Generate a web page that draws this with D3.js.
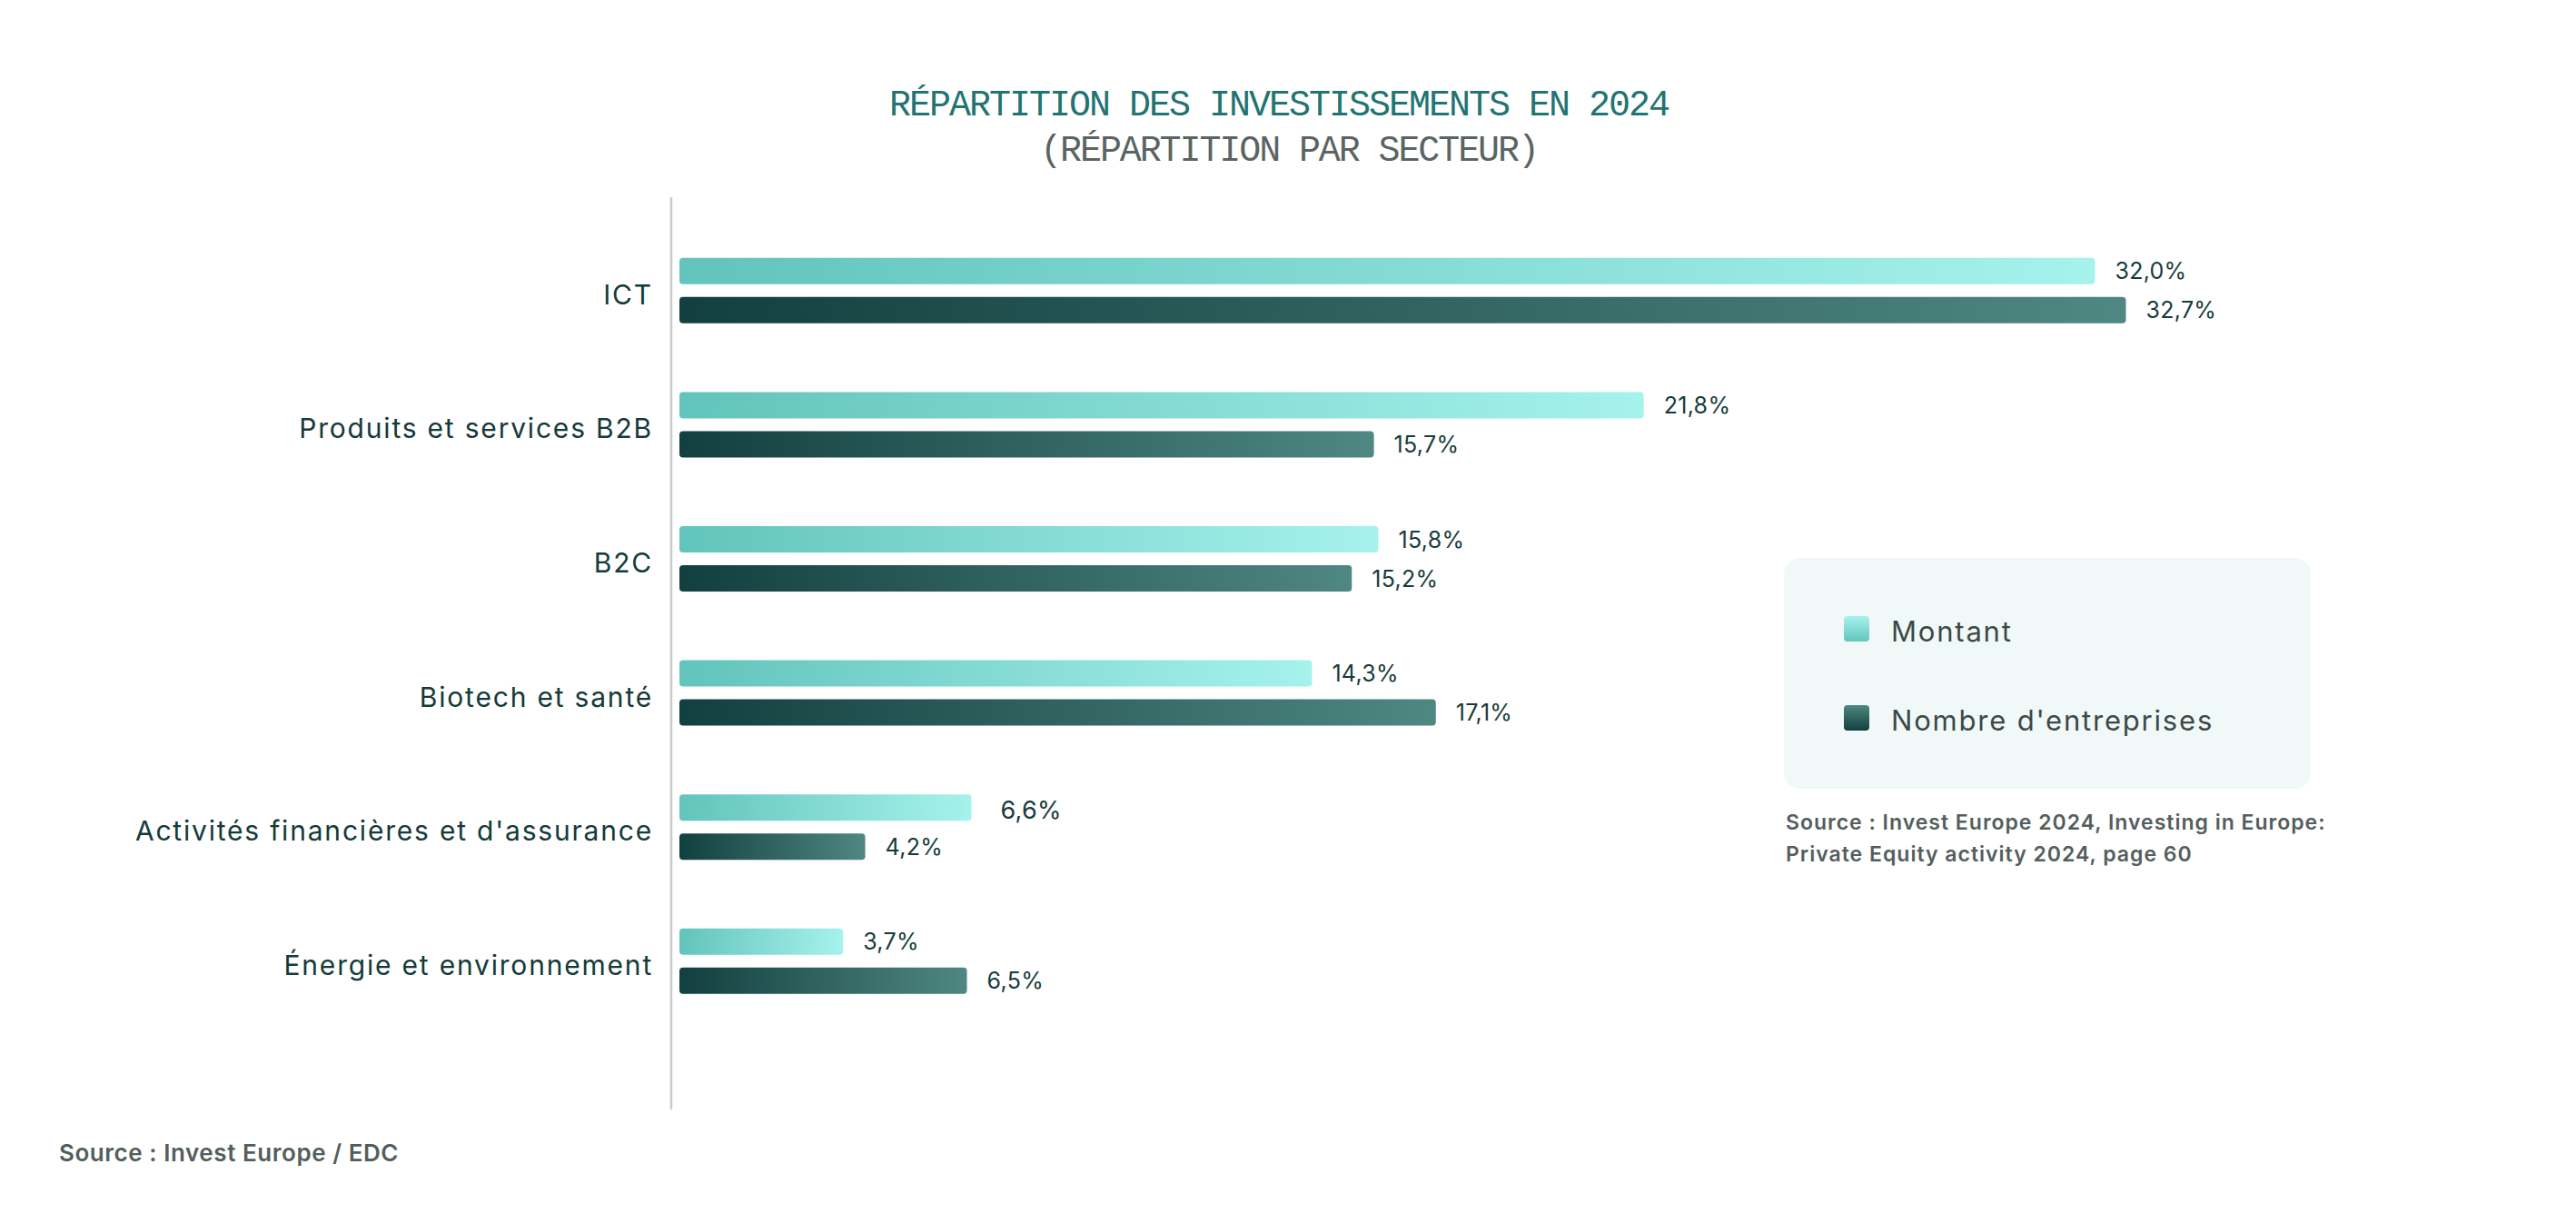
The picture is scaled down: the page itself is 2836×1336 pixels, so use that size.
<!DOCTYPE html>
<html>
<head>
<meta charset="utf-8">
<script src="https://cdn.jsdelivr.net/npm/d3@7"></script>
<style>
  body { margin: 0; background: #ffffff; }
  svg { display: block; }
</style>
</head>
<body>
<div id="chart"></div>
<script>
// Data
const categories = ["ICT", "Produits et services B2B", "B2C", "Biotech et santé",
    "Activités financières et d'assurance", "Énergie et environnement"];
const series = ["Montant", "Nombre d'entreprises"];
const montant = [32.0, 21.8, 15.8, 14.3, 6.6, 3.7];
const nombre = [32.7, 15.7, 15.2, 17.1, 4.2, 6.5];

const W = 2836, H = 1336;
const axisX = 739;
const sans = "Inter, 'Noto Sans', sans-serif";
const mono = "'Liberation Mono', 'DejaVu Sans Mono', monospace";

const svg = d3.select('#chart')
    .append('svg')
    .attr('width', W)
    .attr('height', H);

// Gradients
const defs = svg.append('defs');
function gradient(id, from, to, vertical) {
    const g = defs.append('linearGradient')
        .attr('id', id)
        .attr('x1', 0).attr('y1', 0)
        .attr('x2', vertical ? 0 : 1).attr('y2', vertical ? 1 : 0);
    g.append('stop').attr('offset', '0%').attr('stop-color', from);
    g.append('stop').attr('offset', '100%').attr('stop-color', to);
}
gradient('bar-light', '#62c4bc', '#a6f2ec', false);
gradient('bar-dark', '#123f3f', '#4f8782', false);
gradient('leg-light', '#a6f2ec', '#64c5bd', true);
gradient('leg-dark', '#4f8782', '#123f3f', true);
const fills = ['url(#bar-light)', 'url(#bar-dark)'];

// Title
svg.append('text')
    .attr('x', 1408).attr('y', 127)
    .attr('text-anchor', 'middle')
    .style('font-family', mono)
    .style('font-size', '40px')
    .style('letter-spacing', '-2px')
    .style('fill', '#217471')
    .text('RÉPARTITION DES INVESTISSEMENTS EN 2024');

svg.append('text')
    .attr('x', 1419).attr('y', 177)
    .attr('text-anchor', 'middle')
    .style('font-family', mono)
    .style('font-size', '40px')
    .style('letter-spacing', '-2.1px')
    .style('fill', '#5a6462')
    .text('(RÉPARTITION PAR SECTEUR)');

// Scales
const x = d3.scaleLinear()
    .domain([0, 33])
    .range([748, 748 + 33 * 48.7]);

const y = d3.scaleBand()
    .domain(categories)
    .range([246, 246 + 6 * 147.6]);

const ySub = d3.scaleBand()
    .domain(series)
    .range([0, 72])
    .paddingInner(14 / 43);

const rows = categories.map((c, i) => ({ category: c, values: [montant[i], nombre[i]] }));

// Vertical axis line
svg.append('line')
    .attr('x1', axisX).attr('x2', axisX)
    .attr('y1', 217).attr('y2', 1221)
    .attr('stroke', '#c8cbca')
    .attr('stroke-width', 2.5);

// Category labels
const yAxis = svg.append('g')
    .attr('transform', `translate(${axisX},0)`)
    .call(d3.axisLeft(y).tickSize(0).tickPadding(20));
yAxis.select('.domain').remove();
yAxis.selectAll('text')
    .attr('dy', '0.5em')
    .style('font-family', sans)
    .style('font-size', '30px')
    .style('letter-spacing', '1.8px')
    .style('fill', '#143a39');

// Bars
const fr = d3.formatLocale({ decimal: ',', thousands: ' ', grouping: [3], currency: ['', '€'] });
const fmt = v => fr.format('.1f')(v) + '%';

const group = svg.selectAll('.group')
    .data(rows)
    .enter()
    .append('g')
    .attr('class', 'group')
    .attr('transform', d => `translate(0,${y(d.category) + y.bandwidth() / 2 - 36})`);

const cells = group.selectAll('.cell')
    .data(d => d.values.map((v, j) => ({ category: d.category, series: series[j], j: j, value: v })))
    .enter();

cells.append('rect')
    .attr('x', x(0))
    .attr('y', d => ySub(d.series))
    .attr('width', d => x(d.value) - x(0))
    .attr('height', ySub.bandwidth())
    .attr('rx', 4)
    .attr('fill', d => fills[d.j]);

// The 6,6% label is set larger and further out in the original
const isBig = d => d.category === "Activités financières et d'assurance" && d.j === 0;

cells.append('text')
    .attr('x', d => x(d.value) + (isBig(d) ? 32 : 22))
    .attr('y', d => ySub(d.series) + ySub.bandwidth() / 2 + (isBig(d) ? 12 : 9))
    .style('font-family', sans)
    .style('font-size', d => isBig(d) ? '27px' : '25px')
    .style('letter-spacing', '0.3px')
    .style('fill', '#173b3b')
    .text(d => fmt(d.value));

// Legend
const legend = svg.append('g');
legend.append('rect')
    .attr('x', 1964).attr('y', 614)
    .attr('width', 580).attr('height', 254)
    .attr('rx', 18)
    .attr('fill', '#f1f9f8');

const legItem = legend.selectAll('.leg')
    .data(series)
    .enter()
    .append('g')
    .attr('transform', (d, i) => `translate(2030,${678 + i * 98})`);
legItem.append('rect')
    .attr('width', 28).attr('height', 28)
    .attr('rx', 4)
    .attr('fill', (d, i) => i === 0 ? 'url(#leg-light)' : 'url(#leg-dark)');
legItem.append('text')
    .attr('x', 52).attr('y', 28)
    .style('font-family', sans)
    .style('font-size', '31px')
    .style('letter-spacing', '1.8px')
    .style('fill', '#3b4947')
    .text(d => d);

// Sources
const srcLines = ['Source : Invest Europe 2024, Investing in Europe:',
    'Private Equity activity 2024, page 60'];
svg.selectAll('.src')
    .data(srcLines)
    .enter()
    .append('text')
    .attr('x', 1966)
    .attr('y', (d, i) => 913 + i * 35)
    .style('font-family', sans)
    .style('font-size', '23px')
    .style('font-weight', 600)
    .style('letter-spacing', '1px')
    .style('fill', '#545e5d')
    .text(d => d);

svg.append('text')
    .attr('x', 65).attr('y', 1278)
    .style('font-family', sans)
    .style('font-size', '26px')
    .style('font-weight', 600)
    .style('letter-spacing', '0.55px')
    .style('fill', '#545e5d')
    .text('Source : Invest Europe / EDC');
</script>
</body>
</html>
